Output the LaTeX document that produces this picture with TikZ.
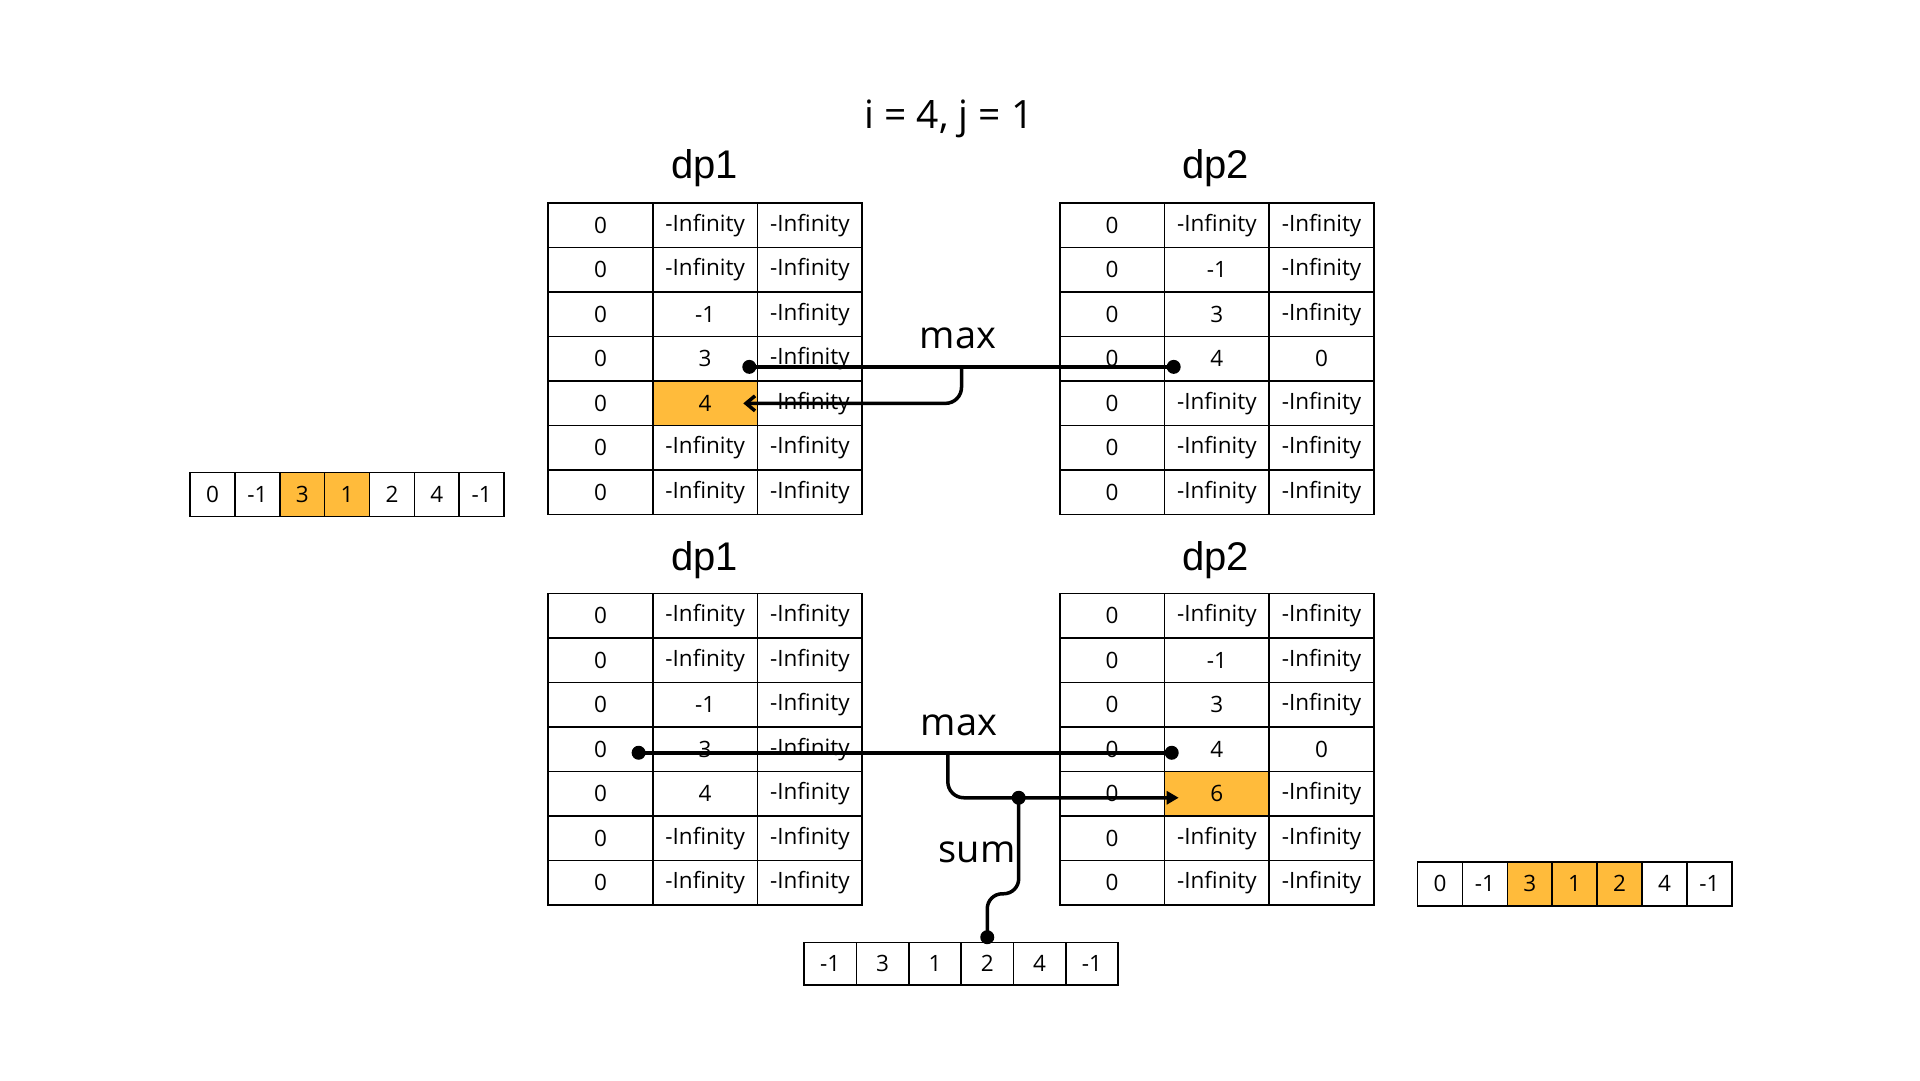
\documentclass[tikz,border=0pt]{standalone}
\usepackage{fontspec}
\setmainfont{Open Sans}
\newfontfamily\titlefont{Liberation Sans}
\usetikzlibrary{calc,arrows.meta}
\definecolor{hl}{RGB}{255,187,59}
\tikzset{
  cell/.style={draw=black, line width=1.6pt, minimum width=104.7pt, minimum height=44.5pt,
    inner sep=0pt, anchor=north west, font=\fontsize{22.5}{22.5}\selectfont},
  acell/.style={draw=black, line width=1.6pt, minimum width=44.9pt, minimum height=44pt,
    inner sep=0pt, anchor=north west, font=\fontsize{22.5}{22.5}\selectfont},
  bcell/.style={draw=black, line width=1.6pt, minimum width=52.33pt, minimum height=42.6pt,
    inner sep=0pt, anchor=north west, font=\fontsize{22.5}{22.5}\selectfont},
  conn/.style={line width=3.5pt, draw=black},
  dot/.style={circle, fill=black, inner sep=0pt, minimum size=14pt},
  title/.style={font=\titlefont\fontsize{40}{40}\selectfont, anchor=base},
  lbl/.style={font=\fontsize{38}{38}\selectfont, anchor=base},
}
\newcommand\dptable[4]{%
  \foreach \a/\b/\c [count=\r] in {#4} {
    \node[cell] (#1-\r-1) at (#2, {#3+(\r-1)*44.5}) {\a};
    \node[cell] (#1-\r-2) at ({#2+104.7}, {#3+(\r-1)*44.5}) {\b};
    \node[cell] (#1-\r-3) at ({#2+209.4}, {#3+(\r-1)*44.5}) {\c};
  }}
\begin{document}
\begin{tikzpicture}[x=1pt,y=-1pt]
\useasboundingbox (0,0) rectangle (1920,1080);
\fill[white] (0,0) rectangle (1920,1080);

% heading
\node[lbl, font=\fontsize{39}{39}\selectfont] (head) at (949,128) {i = 4, j = 1};
\node[title] (h1) at (704.5,178.5) {dp1};
\node[title] (h2) at (1215.5,178.5) {dp2};
\node[title] (h3) at (704.5,570.5) {dp1};
\node[title] (h4) at (1215.5,570.5) {dp2};

% tables
\dptable{t1}{547.3}{202.3}{0/-Infinity/-Infinity, 0/-Infinity/-Infinity, 0/-1/-Infinity, 0/3/-Infinity, 0/4/-Infinity, 0/-Infinity/-Infinity, 0/-Infinity/-Infinity}
\node[cell, fill=hl] (t1h) at (t1-5-2.north west) {4};
\dptable{t2}{1059}{202.3}{0/-Infinity/-Infinity, 0/-1/-Infinity, 0/3/-Infinity, 0/4/0, 0/-Infinity/-Infinity, 0/-Infinity/-Infinity, 0/-Infinity/-Infinity}
\dptable{b1}{547.3}{592.7}{0/-Infinity/-Infinity, 0/-Infinity/-Infinity, 0/-1/-Infinity, 0/3/-Infinity, 0/4/-Infinity, 0/-Infinity/-Infinity, 0/-Infinity/-Infinity}
\dptable{b2}{1059}{592.7}{0/-Infinity/-Infinity, 0/-1/-Infinity, 0/3/-Infinity, 0/4/0, 0/6/-Infinity, 0/-Infinity/-Infinity, 0/-Infinity/-Infinity}
\node[cell, fill=hl] (b2h) at (b2-5-2.north west) {6};

% arrays
\foreach \v [count=\i] in {0,-1,3,1,2,4,-1} {
  \node[acell] (la-\i) at ({189.3+(\i-1)*44.86}, 471.7) {\v};
}
\node[acell, fill=hl] (la-h3) at (la-3.north west) {3};
\node[acell, fill=hl] (la-h4) at (la-4.north west) {1};
\foreach \v [count=\i] in {0,-1,3,1,2,4,-1} {
  \node[acell] (ra-\i) at ({1416.7+(\i-1)*44.9}, 861) {\v};
}
\node[acell, fill=hl] (ra-h3) at (ra-3.north west) {3};
\node[acell, fill=hl] (ra-h4) at (ra-4.north west) {1};
\node[acell, fill=hl] (ra-h5) at (ra-5.north west) {2};
\foreach \v [count=\i] in {-1,3,1,2,4,-1} {
  \node[bcell] (ma-\i) at ({803.3+(\i-1)*52.33}, 941.7) {\v};
}

% labels
\node[lbl] (max1) at (958,348) {max};
\node[lbl] (max2) at (959,735) {max};
\node[lbl] (sum) at (977,862) {sum};

% top connector
\coordinate (p1) at ($(t1-4-2.east)+(-9,8)$);
\coordinate (p2) at ($(t2-4-2.west)+(10,8)$);
\coordinate (j1) at ($(p1)!0.5!(p2)$);
\coordinate (a1) at ($(t1-5-2.east)+(-15,0)$);
\draw[conn] (p1) -- (p2);
\draw[conn, rounded corners=16, -{Straight Barb[length=9pt,width=15pt]}] (j1) |- (a1);
\node[dot] (dp1) at (p1) {};
\node[dot] (dp2) at (p2) {};

% bottom connector
\coordinate (q1) at ($(b1-4-1.east)+(-15,3.5)$);
\coordinate (q2) at ($(b2-4-2.west)+(8,3.5)$);
\coordinate (j2) at ($(q1)!0.58!(q2)$);
\coordinate (a2) at ($(b2-5-2.west)+(15,4)$);
\coordinate (j2b) at (j2 |- a2);
\coordinate (j3) at ($(j2b)!0.307!(a2)$);
\coordinate (s1) at ($(ma-4.north)+(0,-4.5)$);
\draw[conn] (q1) -- (q2);
\draw[conn, rounded corners=16, -{Triangle[length=12pt,width=13pt]}] (j2) |- (a2);
\draw[conn, rounded corners=15] (j3) -- ++(0,96) -| (s1);
\node[dot] (dq1) at (q1) {};
\node[dot] (dq2) at (q2) {};
\node[dot] (dj3) at (j3) {};
\node[dot] (ds1) at (s1) {};
\end{tikzpicture}
\end{document}
